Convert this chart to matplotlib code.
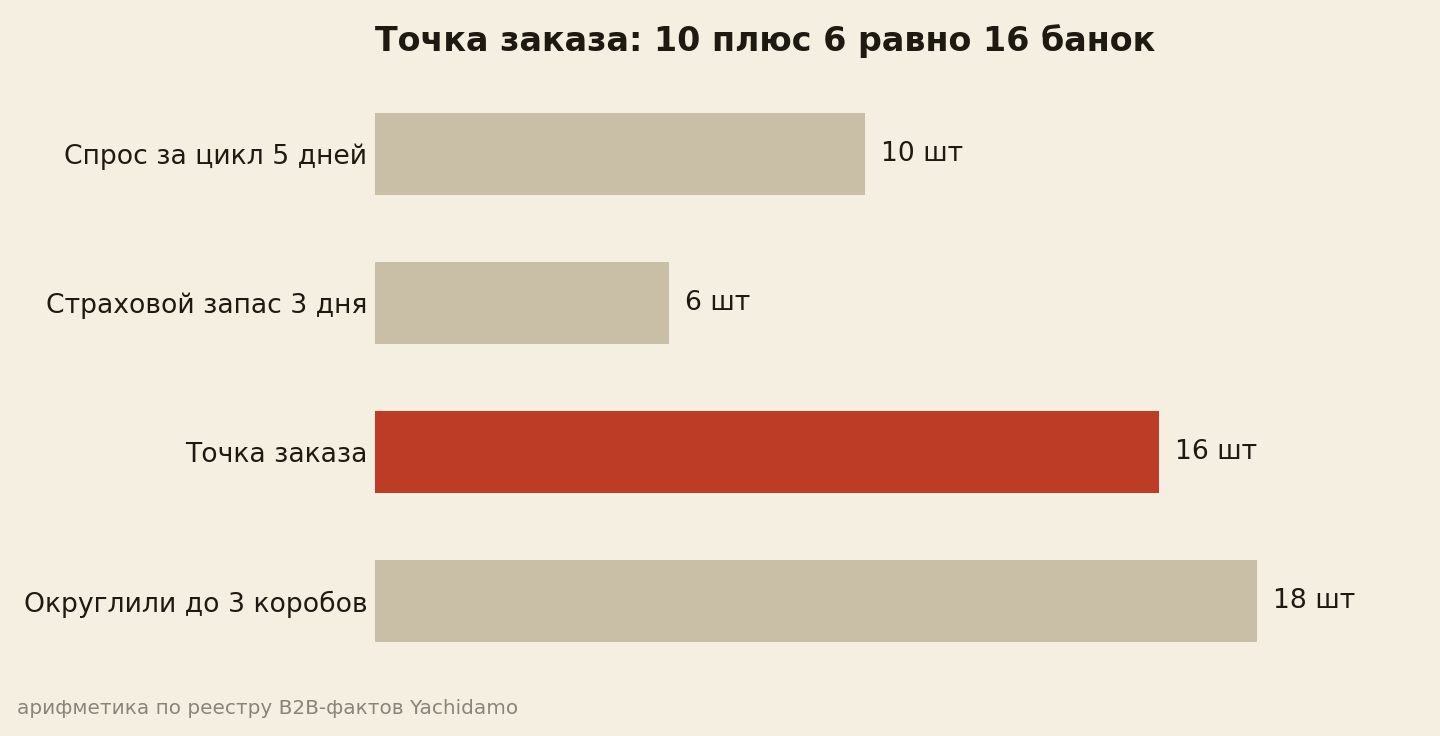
import matplotlib
matplotlib.use("Agg")
import matplotlib.pyplot as plt

# data
categories = ["Спрос за цикл 5 дней", "Страховой запас 3 дня", "Точка заказа", "Округлили до 3 коробов"]
values = [10, 6, 16, 18]
value_labels = ["10 шт", "6 шт", "16 шт", "18 шт"]
highlight = "Точка заказа"

bg = "#F5EFE2"
bar_col = "#C9BFA7"
red_col = "#BC3C26"
text_col = "#1E1A12"

fig = plt.figure(figsize=(14.4, 7.36), dpi=100, facecolor=bg)
ax = fig.add_axes([375 / 1440, 1 - 675.5 / 736, (1433 - 375) / 1440, (675.5 - 79.5) / 736])
ax.set_facecolor(bg)

ypos = list(range(len(categories)))
colors = [red_col if c == highlight else bar_col for c in categories]
ax.barh(ypos, values, height=0.55, color=colors)
ax.set_ylim(len(categories) - 0.5, -0.5)
ax.set_xlim(0, 21.6)

for y, v, lab in zip(ypos, values, value_labels):
    ax.text(v + 0.33, y, lab, va="center", ha="left", fontsize=19.2, color=text_col)

ax.set_yticks(ypos)
ax.set_yticklabels(categories, fontsize=19.2, color=text_col)
ax.tick_params(axis="y", length=0, pad=5.5)
ax.set_xticks([])
for s in ax.spines.values():
    s.set_visible(False)

fig.text(375 / 1440, 1 - 41 / 736, "Точка заказа: 10 плюс 6 равно 16 банок",
         fontsize=24, fontweight="bold", color=text_col, ha="left", va="center")
fig.text(17 / 1440, 1 - 708 / 736, "арифметика по реестру B2B-фактов Yachidamo",
         fontsize=14.4, color="#8A8478", ha="left", va="center")

fig.savefig("out.png", dpi=100, facecolor=bg)
